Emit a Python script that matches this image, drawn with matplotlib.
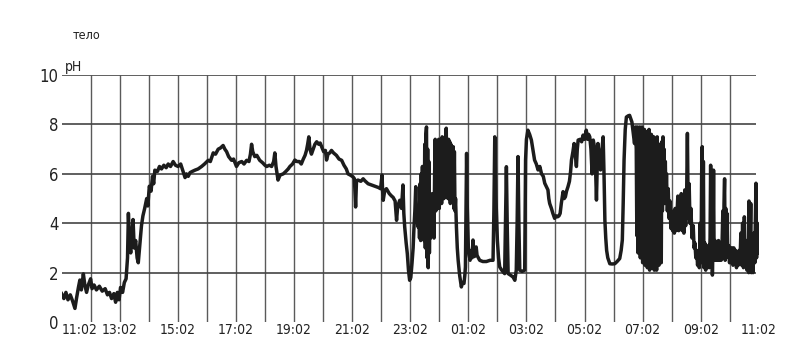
import matplotlib
matplotlib.use("Agg")
import matplotlib.pyplot as plt


# -----------------------------
# Data: hours since 11:02 and pH reading
# -----------------------------

tick_hours = [0, 2, 4, 6, 8, 10, 12, 14, 16, 18, 20, 22, 24]
tick_labels = ["11:02", "13:02", "15:02", "17:02", "19:02", "21:02", "23:02",
               "01:02", "03:02", "05:02", "07:02", "09:02", "11:02"]
ph_ticks = [0, 2, 4, 6, 8, 10]

# 11:02 - 15:02
hours_a = [0.00, 0.08, 0.15, 0.22, 0.30, 0.38, 0.46, 0.52, 0.58, 0.63, 0.68, 0.75,
           0.80, 0.86, 0.92, 1.00, 1.05, 1.12, 1.20, 1.30, 1.40, 1.50, 1.58, 1.65,
           1.72, 1.80, 1.86, 1.92, 1.98, 2.03, 2.10, 2.16, 2.22, 2.27, 2.30, 2.34,
           2.38, 2.42, 2.46, 2.50, 2.55, 2.60, 2.64, 2.70, 2.75, 2.80, 2.86, 2.93,
           2.97, 3.02, 3.08, 3.13, 3.17, 3.21, 3.30, 3.37, 3.44, 3.52, 3.60, 3.67,
           3.75, 3.84, 3.92, 4.01]
ph_a = [1.15, 0.95, 1.20, 0.90, 1.10, 0.85, 0.55, 1.00, 1.40, 1.70, 1.30, 1.95,
        1.50, 1.20, 1.50, 1.75, 1.35, 1.50, 1.30, 1.45, 1.25, 1.35, 1.10, 1.20,
        0.95, 1.15, 0.80, 1.20, 0.90, 1.40, 1.20, 1.60, 1.75, 2.60, 4.40, 3.20,
        2.80, 3.60, 4.15, 3.00, 3.30, 2.60, 2.40, 3.20, 3.90, 4.30, 4.60, 5.00,
        4.70, 5.50, 5.30, 5.90, 5.60, 6.15, 6.10, 6.30, 6.20, 6.35, 6.25, 6.40,
        6.30, 6.50, 6.35, 6.30]

# 15:02 - 19:02
hours_b = [4.10, 4.18, 4.25, 4.30, 4.36, 4.42, 4.50, 4.59, 4.70, 4.82, 4.92, 5.05,
           5.12, 5.22, 5.30, 5.39, 5.47, 5.56, 5.62, 5.68, 5.75, 5.85, 5.92, 6.02,
           6.10, 6.20, 6.28, 6.37, 6.45, 6.50, 6.54, 6.58, 6.65, 6.72, 6.82, 6.92,
           7.00, 7.06, 7.15, 7.23, 7.30, 7.34, 7.38, 7.45, 7.52, 7.63, 7.72, 7.80,
           7.86, 7.95, 8.03]
ph_b = [6.40, 6.10, 5.85, 6.00, 5.90, 6.05, 6.10, 6.15, 6.20, 6.30, 6.40, 6.55,
        6.50, 6.85, 6.80, 7.00, 7.05, 7.15, 7.00, 6.90, 6.70, 6.55, 6.60, 6.30,
        6.45, 6.50, 6.40, 6.55, 6.50, 6.80, 7.20, 6.90, 6.70, 6.75, 6.55, 6.45,
        6.35, 6.30, 6.35, 6.30, 6.50, 6.85, 6.30, 5.75, 5.95, 6.00, 6.10, 6.20,
        6.30, 6.40, 6.56]

# 19:02 - 23:20
hours_c = [8.10, 8.18, 8.25, 8.32, 8.38, 8.43, 8.47, 8.51, 8.55, 8.60, 8.66, 8.72,
           8.78, 8.85, 8.90, 8.95, 9.02, 9.08, 9.12, 9.17, 9.23, 9.29, 9.36, 9.46,
           9.55, 9.64, 9.72, 9.80, 9.86, 9.94, 10.03, 10.08, 10.12, 10.15, 10.20,
           10.30, 10.38, 10.44, 10.55, 10.67, 10.78, 10.90, 10.98, 11.03, 11.05,
           11.07, 11.12, 11.18, 11.28, 11.36, 11.41, 11.48, 11.53, 11.57, 11.64,
           11.70, 11.75, 11.78, 11.81, 11.86, 11.90, 11.94, 11.98, 12.02, 12.06,
           12.10, 12.13, 12.16, 12.19, 12.22, 12.27]
ph_c = [6.50, 6.50, 6.40, 6.60, 6.75, 6.95, 7.20, 7.50, 7.00, 6.80, 7.00, 7.20,
        7.30, 7.20, 7.25, 7.10, 6.90, 6.95, 6.56, 6.80, 6.85, 6.95, 6.85, 6.75,
        6.60, 6.55, 6.35, 6.20, 6.00, 5.95, 5.88, 5.80, 4.66, 5.70, 5.75,
        5.70, 5.80, 5.72, 5.60, 5.55, 5.50, 5.45, 5.40, 5.95, 5.30,
        4.93, 5.30, 5.40, 5.20, 5.10, 5.05, 4.90, 4.12, 4.70, 4.93,
        4.60, 5.55, 4.40, 3.85, 3.20, 2.77, 2.10, 1.69, 1.80, 2.36,
        3.00, 3.85, 4.50, 5.48, 4.30, 3.85]

# 23:20 - 00:40, dense swings
hours_d1 = [12.30, 12.32, 12.34, 12.36, 12.38, 12.40, 12.42, 12.44, 12.46, 12.48,
            12.50, 12.52, 12.54, 12.56, 12.58, 12.60, 12.62, 12.64, 12.66, 12.68,
            12.70, 12.72, 12.74, 12.76, 12.78, 12.80, 12.82, 12.84, 12.86, 12.88,
            12.90, 12.92, 12.94, 12.96, 12.98, 13.00, 13.02, 13.04, 13.06, 13.08,
            13.10, 13.12, 13.14, 13.16, 13.18, 13.20, 13.22, 13.24, 13.26, 13.28,
            13.30, 13.32, 13.34, 13.36, 13.38, 13.40, 13.42, 13.44, 13.46, 13.48,
            13.50, 13.52, 13.54, 13.56]
ph_d1 = [4.60, 3.40, 5.60, 3.30, 6.00, 3.60, 6.30, 4.00, 6.00, 3.30,
         7.20, 3.00, 7.60, 7.90, 2.60, 7.00, 2.20, 6.50, 2.80, 5.00,
         3.40, 4.60, 3.60, 5.20, 3.60, 4.80, 3.40, 6.00, 7.40, 4.50,
         7.20, 4.60, 7.30, 5.00, 7.40, 4.60, 7.00, 5.20, 7.30, 4.80,
         7.50, 5.50, 7.40, 5.00, 7.20, 5.60, 7.50, 7.85, 5.40, 7.30,
         5.00, 7.40, 5.50, 7.30, 4.80, 7.20, 5.20, 7.00, 5.40, 7.10,
         4.60, 6.90, 4.50, 5.00]

# 00:40 - 03:20
hours_d2 = [13.59, 13.62, 13.65, 13.70, 13.76, 13.80, 13.85,
            13.88, 13.90, 13.92, 13.94, 13.96, 14.00, 14.03, 14.06, 14.10, 14.13,
            14.16, 14.19, 14.21, 14.27, 14.30, 14.39, 14.50, 14.62, 14.75, 14.85,
            14.88, 14.91, 14.95, 15.00, 15.04, 15.08, 15.15, 15.25, 15.28, 15.31,
            15.34, 15.37, 15.45, 15.54, 15.60, 15.65, 15.68, 15.71, 15.74, 15.77,
            15.85, 15.94, 15.97, 16.00, 16.05, 16.11, 16.17, 16.22, 16.28]
ph_d2 = [3.85, 3.00, 2.50, 1.90, 1.42, 1.60, 1.56,
         1.90, 2.23, 4.50, 6.83, 4.80, 3.04, 2.70, 2.50, 2.90, 2.60,
         3.32, 2.80, 2.65, 3.04, 2.70, 2.50, 2.45, 2.45, 2.50, 2.50,
         4.50, 7.50, 5.00, 3.30, 2.60, 2.23, 2.10, 1.96, 4.00, 6.29,
         3.80, 1.96, 1.90, 1.82, 1.69, 2.10, 4.00, 6.70, 4.00, 2.10,
         2.05, 2.10, 6.56, 7.40, 7.77, 7.60, 7.37, 7.00, 6.56]

# 03:20 - 06:50
hours_e = [16.34, 16.40, 16.46, 16.52, 16.58, 16.63, 16.68, 16.74, 16.77, 16.80,
           16.86, 16.91, 16.97, 17.02, 17.07, 17.12, 17.16, 17.20, 17.26, 17.30,
           17.34, 17.38, 17.43, 17.48, 17.52, 17.55, 17.60, 17.64, 17.68, 17.72,
           17.75, 17.78, 17.85, 17.90, 17.95, 18.00, 18.06, 18.10, 18.14, 18.18,
           18.22, 18.26, 18.30, 18.34, 18.38, 18.41, 18.44, 18.46, 18.50, 18.55,
           18.60, 18.64, 18.67, 18.70, 18.73, 18.76, 18.80, 18.87, 18.95, 19.04,
           19.12, 19.21, 19.26, 19.30, 19.33, 19.36, 19.40, 19.44, 19.50, 19.55,
           19.60, 19.63, 19.68, 19.72, 19.75]
ph_e = [6.40, 6.16, 6.30, 6.00, 5.90, 5.62, 5.50, 5.35, 5.00, 4.80,
        4.60, 4.40, 4.20, 4.30, 4.26, 4.30, 4.40, 4.80, 5.28, 5.00,
        5.07, 5.30, 5.48, 5.70, 6.10, 6.56, 6.90, 7.23, 6.80, 6.30,
        7.00, 7.37, 7.40, 7.30, 7.57, 7.40, 7.77, 7.40, 7.60, 7.50,
        7.00, 6.00, 7.37, 7.10, 6.20, 4.94, 6.50, 7.23, 6.80, 6.16,
        7.00, 7.50, 6.00, 4.12, 3.40, 2.90, 2.60, 2.36, 2.35, 2.36,
        2.45, 2.57, 2.90, 3.32, 4.80, 6.56, 7.80, 8.30, 8.35, 8.37,
        8.20, 8.10, 7.60, 7.23, 7.90]

# 06:50 - 07:45, dense swings
hours_f = [19.78, 19.80, 19.82, 19.84, 19.86, 19.88, 19.90, 19.92, 19.94, 19.96,
           19.98, 20.00, 20.02, 20.04, 20.06, 20.08, 20.10, 20.12, 20.14, 20.16,
           20.18, 20.20, 20.22, 20.24, 20.26, 20.28, 20.30, 20.32, 20.34, 20.36,
           20.38, 20.40, 20.42, 20.44, 20.46, 20.48, 20.50, 20.52, 20.54, 20.56,
           20.58, 20.60, 20.62, 20.64, 20.66, 20.68, 20.70]
ph_f = [7.00, 3.50, 7.90, 2.80, 7.70, 3.40, 7.90, 2.60, 7.60, 3.00,
        7.90, 2.40, 7.50, 3.20, 7.80, 2.30, 7.60, 2.80, 7.70, 2.20,
        7.40, 3.00, 7.80, 2.10, 7.50, 2.60, 7.60, 2.20, 7.30, 2.90,
        7.50, 2.10, 7.40, 2.50, 7.20, 2.10, 7.50, 2.60, 7.00, 2.30,
        7.20, 3.00, 6.90, 2.40, 7.30, 4.50, 7.50]

# 07:45 - 11:02
hours_g = [20.72, 20.74, 20.76, 20.78, 20.80, 20.82, 20.85, 20.88, 20.91, 20.94,
           20.97, 21.00, 21.03, 21.06, 21.09, 21.12, 21.15, 21.18, 21.21, 21.24,
           21.27, 21.30, 21.33, 21.36, 21.39, 21.42, 21.45, 21.48, 21.51, 21.54,
           21.57, 21.60, 21.63, 21.66, 21.70, 21.74, 21.77, 21.80, 21.83, 21.86,
           21.89, 21.92, 21.95, 21.98, 22.01, 22.03, 22.05, 22.07, 22.09, 22.11,
           22.14, 22.17, 22.20, 22.23, 22.26, 22.29, 22.32, 22.34, 22.36, 22.38,
           22.40, 22.42, 22.44, 22.46, 22.49, 22.52, 22.55, 22.58, 22.61, 22.64,
           22.67, 22.70, 22.73, 22.76, 22.78, 22.80, 22.82, 22.84, 22.86, 22.88,
           22.90, 22.93, 22.96, 22.99, 23.02, 23.05, 23.08, 23.11, 23.14, 23.17,
           23.20, 23.23, 23.26, 23.29, 23.32, 23.35, 23.38, 23.41, 23.44, 23.47,
           23.50, 23.53, 23.56, 23.59, 23.62, 23.65, 23.66, 23.68, 23.72, 23.74,
           23.77, 23.80, 23.83, 23.86, 23.88, 23.90, 23.92, 23.95, 23.98, 24.00]
ph_g = [5.20, 7.00, 4.80, 6.50, 5.00, 6.00, 4.50, 5.40, 4.20, 4.90,
        3.80, 4.40, 3.70, 4.50, 3.60, 4.60, 3.70, 4.30, 5.10, 3.70,
        4.50, 3.80, 5.20, 3.70, 4.40, 3.60, 5.35, 3.90, 4.80, 7.64,
        4.20, 5.60, 4.00, 4.60, 3.40, 3.90, 3.00, 3.20, 2.60, 2.90,
        2.30, 2.70, 2.20, 4.00, 2.40, 6.00, 7.10, 2.60, 6.50, 2.20,
        3.20, 2.10, 3.00, 2.30, 3.10, 2.20, 3.40, 6.35, 2.40, 4.00,
        1.90, 3.00, 6.15, 2.50, 3.30, 2.50, 3.20, 2.50, 3.30, 2.50,
        3.20, 2.50, 3.00, 4.50, 2.60, 4.80, 5.80, 2.50, 4.60, 2.60,
        4.40, 2.70, 3.10, 2.40, 3.00, 2.40, 3.00, 2.30, 3.00, 2.40,
        2.90, 2.20, 2.80, 2.30, 2.90, 2.40, 3.60, 2.30, 4.00, 2.20,
        4.26, 2.50, 3.30, 2.10, 3.30, 2.00, 4.90, 2.20, 4.80, 2.00,
        3.20, 2.00, 3.60, 2.40, 4.20, 5.62, 2.60, 4.00, 2.80, 3.85]

hours = (hours_a + hours_b + hours_c + hours_d1 + hours_d2 + hours_e
         + hours_f + hours_g)
ph = ph_a + ph_b + ph_c + ph_d1 + ph_d2 + ph_e + ph_f + ph_g


# -----------------------------
# Figure
# -----------------------------

plt.rcParams["font.family"] = ["Liberation Sans Narrow", "DejaVu Sans"]
plt.rcParams["font.stretch"] = "condensed"

fig = plt.figure(figsize=(8.08, 3.41), dpi=100)

ax = fig.add_axes([0.0762, 0.0557, 0.863, 0.724])

ax.set_xlim(0, 24)
ax.set_ylim(0, 10)

for h in range(1, 24):
    ax.vlines(h, 0, 10, color="#5a5a5a", lw=1.0, zorder=1)

for v in ph_ticks[1:]:
    ax.hlines(v, 0, 23.9, color="#444444", lw=1.2, zorder=1)

ax.plot(hours, ph, color="#1c1c1c", lw=2.5, zorder=3,
        solid_joinstyle="round")

for side in ["left", "right", "top", "bottom"]:
    ax.spines[side].set_visible(False)

ax.set_xticks(tick_hours)
ax.set_xticklabels(tick_labels, fontsize=10, color="#222222")
ax.get_xticklabels()[0].set_ha("left")

ax.set_yticks(ph_ticks)
ax.set_yticklabels([str(v) for v in ph_ticks], fontsize=12, color="#222222")

ax.tick_params(axis="both", length=0)
ax.tick_params(axis="x", pad=1)
ax.tick_params(axis="y", pad=2)

ax.text(0.1, 10.05, "pH", fontsize=10, color="#222222",
        ha="left", va="bottom")

fig.text(0.09, 0.895, "тело", fontsize=9, color="#222222",
         ha="left", va="center")

fig.savefig("out.png", dpi=100, facecolor="white")

plt.close()
